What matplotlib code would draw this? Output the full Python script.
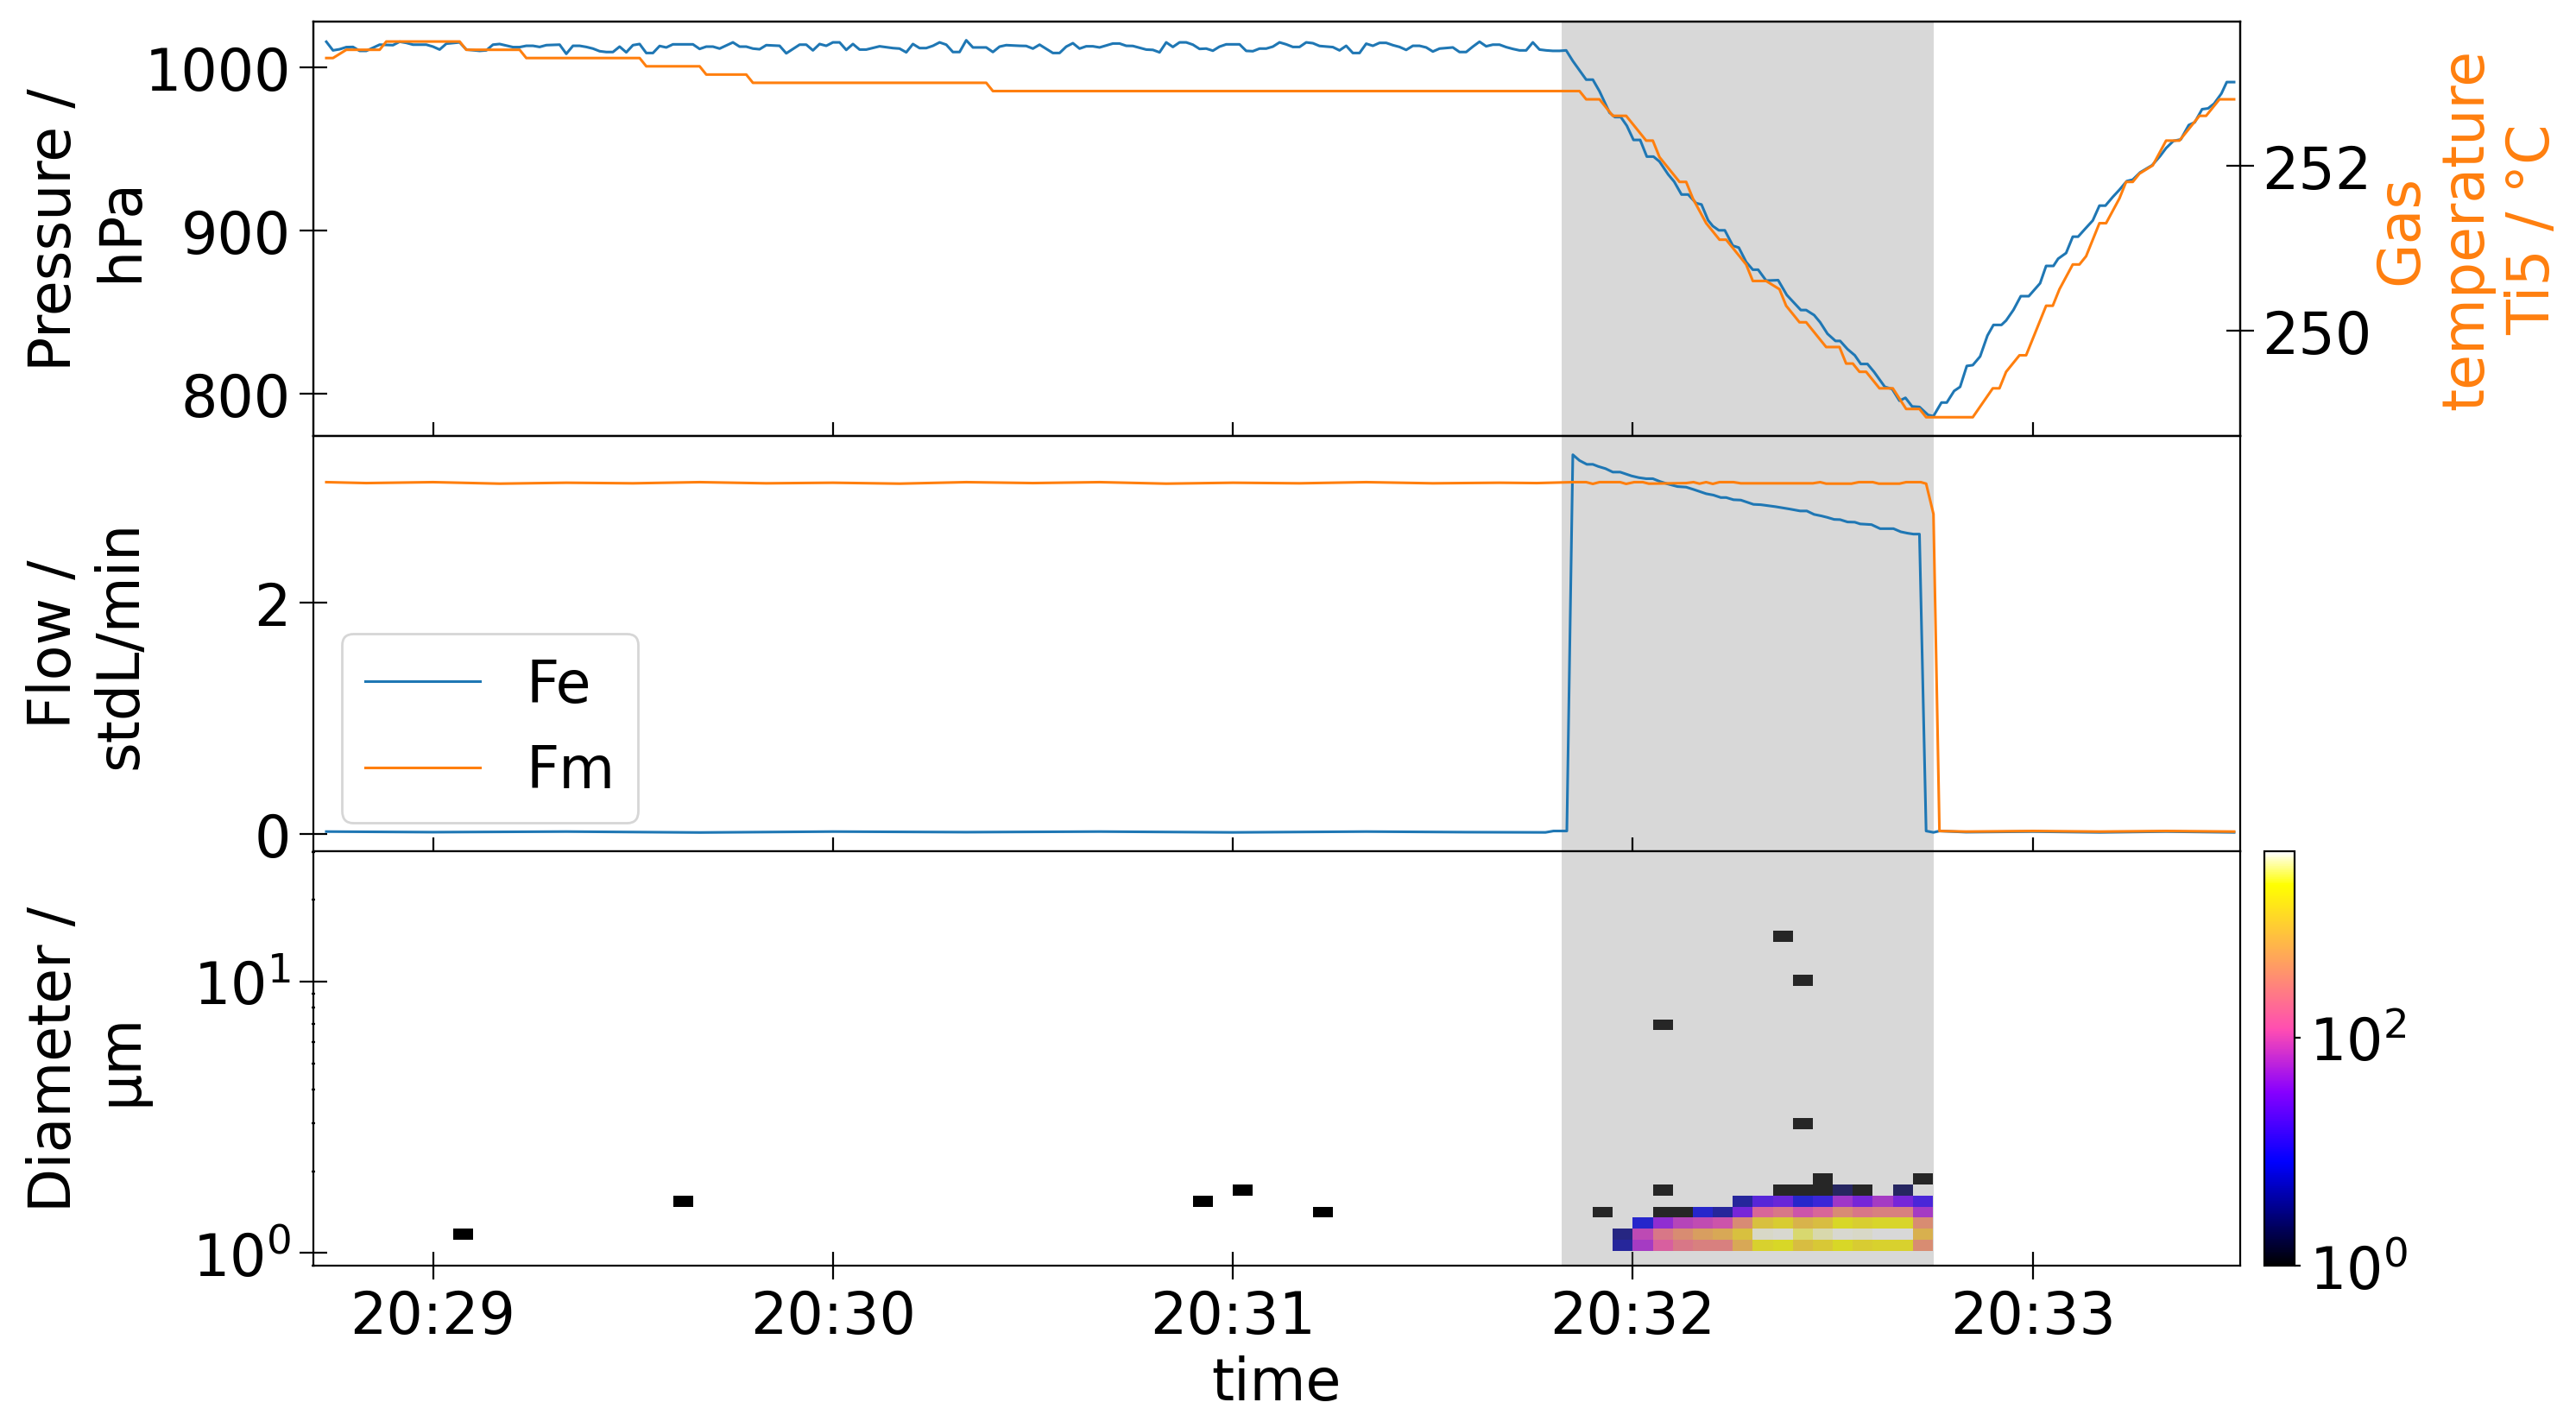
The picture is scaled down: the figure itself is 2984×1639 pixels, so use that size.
import numpy as np
import matplotlib
matplotlib.use('Agg')
import matplotlib.pyplot as plt
import matplotlib.dates as mdates
from matplotlib.colors import LogNorm
from datetime import datetime, timedelta

plt.rcParams['font.size'] = 24
plt.rcParams['lines.linewidth'] = 1.1

# all times are seconds after 20:28:00
START = datetime(2022, 1, 1, 20, 28, 0)

# pressure (hPa)
p_time = [44, 45, 46, 47, 48, 49, 50, 52, 54, 55, 56, 57, 59, 60, 61, 62, 64, 65, 67, 68,
          69, 70, 72, 73, 74, 75, 76, 77, 79, 80, 81, 82, 83, 84, 85, 86, 87, 88, 89, 90,
          91, 92, 93, 94, 95, 96, 99, 100, 101, 102, 103, 105, 106, 107, 108, 109, 110, 112, 113, 115,
          116, 117, 118, 119, 120, 121, 122, 123, 124, 125, 127, 129, 130, 131, 132, 133, 134, 135, 136, 137,
          138, 139, 140, 141, 143, 144, 145, 146, 148, 149, 150, 151, 153, 154, 155, 156, 157, 158, 159, 160,
          162, 163, 164, 165, 167, 168, 169, 170, 171, 172, 173, 174, 175, 176, 177, 178, 179, 181, 182, 183,
          184, 185, 186, 187, 188, 189, 190, 191, 192, 193, 195, 196, 197, 198, 199, 200, 201, 202, 203, 204,
          205, 206, 207, 208, 209, 210, 211, 213, 214, 215, 216, 217, 218, 219, 220, 221, 222, 223, 224, 225,
          226, 227, 228, 229, 230, 231, 233, 234, 235, 236.5, 237.3, 238.2, 239.1, 240.1, 241.1, 242.1, 243.1, 244.0,
          245.3, 246.2, 247.3, 248.3, 249.5, 250.3, 251.3, 252.0, 252.9, 253.8, 255.0, 255.9, 257.0, 258.0, 258.8,
          260.0, 261.8, 263.1, 265.2, 266.0, 267.2, 268.1, 269.2, 270.4, 271.1, 272.2, 273.3, 274.2, 275.2,
          276.2, 277.8, 278.9, 280.0, 280.9, 281.9, 283.0, 284.3, 285.1, 286.3, 287.1, 288.2, 289.1, 290.1,
          291.0, 292.1, 293.2, 294.1, 295.3, 296.0, 297.1, 298.2, 299.4, 301.1, 302.0, 303.1, 303.8, 305.0,
          306.0, 306.8, 307.9, 309.0, 310.0, 310.9, 312.0, 313.0, 314.1, 315.0, 316.1, 317.9, 319.1, 320.0,
          321.1, 322.2, 323.4, 324.3, 325.4, 326.3, 327.2, 328.3, 329.1, 330.2]
p_hpa = [1015.5, 1010.2, 1010.9, 1012.2, 1012.3, 1009.9, 1009.9, 1013.7, 1013.4, 1015.5, 1014.8, 1013.7, 1013.7, 1012.5, 1010.7, 1014.3, 1015.1, 1010.7, 1009.9, 1010.2,
         1013.7, 1014.1, 1012.2, 1012.2, 1013.0, 1013.0, 1012.3, 1013.4, 1013.7, 1008.1, 1013.0, 1013.0, 1012.3, 1011.3, 1009.7, 1009.2, 1009.2, 1012.5, 1009.0, 1013.4,
         1014.1, 1008.6, 1008.6, 1012.9, 1012.0, 1013.9, 1013.9, 1011.1, 1012.5, 1012.5, 1011.3, 1015.1, 1012.5, 1012.5, 1011.3, 1010.9, 1013.4, 1013.0, 1008.4, 1013.7,
         1013.7, 1010.2, 1014.1, 1013.0, 1015.1, 1015.1, 1010.5, 1014.1, 1010.7, 1010.7, 1012.7, 1011.6, 1011.3, 1009.0, 1014.1, 1011.6, 1011.6, 1013.0, 1015.1, 1013.7,
         1009.2, 1009.2, 1016.4, 1012.0, 1012.0, 1009.2, 1012.5, 1013.4, 1013.0, 1012.9, 1011.3, 1013.7, 1008.6, 1008.6, 1012.5, 1014.6, 1011.3, 1012.7, 1012.7, 1012.0,
         1014.4, 1014.4, 1013.0, 1012.9, 1010.7, 1010.5, 1009.0, 1015.1, 1012.3, 1015.1, 1015.1, 1013.7, 1011.1, 1011.3, 1010.0, 1012.5, 1013.9, 1013.9, 1009.9, 1009.7,
         1011.3, 1011.3, 1012.5, 1015.1, 1013.9, 1012.3, 1012.3, 1015.1, 1014.6, 1012.9, 1012.2, 1010.2, 1013.0, 1008.6, 1008.6, 1014.3, 1013.0, 1014.8, 1014.8, 1013.4,
         1012.3, 1010.5, 1013.0, 1013.0, 1012.0, 1009.5, 1011.3, 1012.0, 1009.2, 1009.2, 1012.5, 1015.5, 1012.7, 1013.7, 1013.7, 1012.2, 1011.1, 1010.2, 1010.2, 1015.1,
         1010.7, 1010.2, 1009.9, 1009.9, 1010.2, 1003.7, 992.3, 992.3, 985.2, 972.1, 969.4, 969.4, 964.1, 955.4, 955.4, 945.2, 945.2, 942.2,
         934.3, 929.9, 922.0, 922.0, 916.7, 915.9, 906.2, 902.7, 900.1, 900.1, 890.7, 889.5, 880.7, 876.0, 876.0,
         869.3, 869.6, 860.5, 851.3, 851.3, 848.2, 843.8, 836.8, 832.4, 832.4, 827.4, 823.6, 818.3, 818.3,
         813.4, 804.3, 803.0, 795.8, 797.6, 792.3, 792.0, 787.1, 786.4, 794.7, 794.7, 801.8, 804.3, 817.1,
         817.6, 822.9, 835.7, 842.2, 842.2, 844.9, 851.4, 859.8, 859.8, 867.7, 878.3, 878.3, 882.7, 886.2,
         896.2, 896.2, 901.2, 906.1, 915.2, 915.2, 920.5, 924.9, 930.2, 931.1, 935.5, 939.9, 945.5, 950.4,
         954.8, 955.7, 964.5, 966.2, 974.2, 974.7, 977.6, 983.8, 990.8, 990.8]

# gas temperature Ti5 (degC)
t_time = [44, 45, 47, 52, 53, 64, 65, 73, 74, 91, 92, 100, 101, 107, 108, 143, 144, 232, 233, 235,
          237, 239, 242, 243, 244, 247, 248, 249, 251, 253, 254, 257, 258, 260, 262, 263, 265, 266, 269, 271,
          272, 273, 274, 275, 277, 279, 281, 283, 284, 291, 294, 295, 296, 298, 299, 302, 303, 304, 306, 307,
          308, 310, 311, 313, 314, 315, 316, 318, 320, 322, 325, 326, 328, 330.2]
t_gas = [253.3, 253.3, 253.4, 253.4, 253.5, 253.5, 253.4, 253.4, 253.3, 253.3, 253.2, 253.2, 253.1, 253.1, 253.0, 253.0, 252.9, 252.9, 252.8, 252.8,
         252.6, 252.6, 252.3, 252.3, 252.1, 251.8, 251.8, 251.6, 251.3, 251.1, 251.1, 250.8, 250.6, 250.6, 250.5, 250.3, 250.1, 250.1, 249.8, 249.8,
         249.6, 249.6, 249.5, 249.5, 249.3, 249.3, 249.05, 249.05, 248.95, 248.95, 249.3, 249.3, 249.5, 249.7, 249.7, 250.3, 250.3, 250.5, 250.8, 250.8,
         250.9, 251.3, 251.3, 251.6, 251.8, 251.8, 251.9, 252.0, 252.3, 252.3, 252.6, 252.6, 252.8, 252.8]

# flows (stdL/min)
fe_time = [44, 60, 80, 100, 120, 140, 160, 180, 200, 215, 226.9, 228.1, 230.1, 231.0, 232.0, 233.1, 234.0, 234.8, 235.9, 237.0,
           238.1, 239.8, 240.9, 242.0, 243.0, 244.1, 245.2, 246.7, 248.0, 249.1, 251.0, 252.1, 253.2, 254.0, 255.1, 256.2, 258.1, 259.2,
           261.4, 263.5, 265.1, 266.1, 267.2, 268.3, 269.2, 270.2, 271.1, 272.2, 273.3, 274.1, 275.8, 277.1, 279.1, 280.2, 281.2, 282.1,
           283.0, 284.0, 285.1, 286.0, 290, 300, 310, 320, 330.2]
fe_flow = [0.02, 0.015, 0.02, 0.012, 0.02, 0.015, 0.02, 0.013, 0.02, 0.015, 0.013, 0.025, 0.025, 3.277, 3.227, 3.194, 3.194, 3.176, 3.157, 3.127,
           3.127, 3.094, 3.079, 3.070, 3.070, 3.045, 3.025, 3.002, 2.997, 2.977, 2.940, 2.928, 2.907, 2.907, 2.888, 2.885, 2.848, 2.845,
           2.828, 2.808, 2.791, 2.791, 2.761, 2.748, 2.735, 2.718, 2.716, 2.696, 2.694, 2.679, 2.673, 2.638, 2.638, 2.611, 2.599, 2.591,
           2.591, 0.025, 0.013, 0.025, 0.015, 0.02, 0.013, 0.02, 0.013]
fm_time = [44, 50, 60, 70, 80, 90, 100, 110, 120, 130, 140, 150, 160, 170, 180, 190, 200, 210, 220, 225.6,
           231.0, 233.0, 234.0, 235.0, 238.1, 239.0, 240.2, 241.5, 242.4, 248.0, 249.1, 250.0, 251.0, 252.0, 253.0, 255.1, 256.2,
           267.0, 268.1, 269.0, 272.8, 273.9, 276.0, 276.9, 280.0, 281.0, 283.2, 284.0, 285.1, 286.0, 290, 300, 310, 320, 330.2]
fm_flow = [3.04, 3.032, 3.04, 3.027, 3.035, 3.03, 3.04, 3.03, 3.035, 3.027, 3.04, 3.032, 3.04, 3.027, 3.035, 3.03, 3.04, 3.03, 3.035, 3.032,
           3.04, 3.04, 3.025, 3.04, 3.04, 3.025, 3.04, 3.04, 3.027, 3.032, 3.04, 3.027, 3.04, 3.025, 3.04, 3.04, 3.03,
           3.03, 3.04, 3.027, 3.027, 3.04, 3.04, 3.027, 3.027, 3.04, 3.04, 3.027, 2.765, 0.025, 0.02, 0.025, 0.02, 0.025, 0.02]

# particle size histogram: 3 s time bins, log diameter bins
BIN_S = 3
HIST_T0 = 42
N_TBINS = 97
LOG_D0 = 0.0086
LOG_DSTEP = 0.0406
N_DBINS = 30
cell_time = [63, 96, 174, 180, 192, 234,
             237, 240, 243, 246, 249, 252, 255, 258, 261, 264, 267, 270, 273, 276, 279, 282,
             237, 240, 243, 246, 249, 252, 255, 258, 261, 264, 267, 270, 273, 276, 279, 282,
             240, 243, 246, 249, 252, 255, 258, 261, 264, 267, 270, 273, 276, 279, 282,
             243, 246, 249, 252, 255, 258, 261, 264, 267, 270, 273, 276, 279, 282,
             255, 258, 261, 264, 267, 270, 273, 276, 279, 282,
             243, 261, 264, 267, 270, 273, 279,
             267, 282, 264, 243, 264, 261]
cell_row = [1, 4, 4, 5, 3, 3,
            0, 0, 0, 0, 0, 0, 0, 0, 0, 0, 0, 0, 0, 0, 0, 0,
            1, 1, 1, 1, 1, 1, 1, 1, 1, 1, 1, 1, 1, 1, 1, 1,
            2, 2, 2, 2, 2, 2, 2, 2, 2, 2, 2, 2, 2, 2, 2,
            3, 3, 3, 3, 3, 3, 3, 3, 3, 3, 3, 3, 3, 3,
            4, 4, 4, 4, 4, 4, 4, 4, 4, 4,
            5, 5, 5, 5, 5, 5, 5,
            6, 6, 11, 20, 24, 28]
cell_count = [1, 1, 1, 1, 1, 1,
              4, 54, 128, 223, 275, 275, 690, 1800, 2130, 1130, 1490, 2130, 1650, 1800, 1800, 370,
              3, 78, 223, 370, 550, 690, 1230, 3900, 4100, 2900, 3600, 4100, 3900, 4300, 4250, 850,
              7, 40, 70, 80, 100, 350, 1230, 1650, 920, 1130, 2130, 1700, 2000, 2000, 370,
              1, 1, 7, 4, 28, 150, 220, 100, 150, 350, 220, 275, 275, 54,
              4, 17, 22, 7, 11, 50, 28, 55, 28, 14,
              1, 1, 1, 1, 2, 1, 2,
              1, 1, 1, 1, 1, 1]

SHADE = (229.3, 285.1)


def to_time(seconds):
    return mdates.date2num([START + timedelta(seconds=float(s)) for s in seconds])


time_edges = HIST_T0 + BIN_S * np.arange(N_TBINS + 1)
diam_edges = 10 ** (LOG_D0 + LOG_DSTEP * np.arange(N_DBINS + 1))
counts = np.zeros((N_DBINS, N_TBINS))
for t, r, c in zip(cell_time, cell_row, cell_count):
    counts[r, (t - HIST_T0) // BIN_S] = c

fig = plt.figure(figsize=(14.92, 8.2), dpi=200)
left, width = 0.1215, 0.7481
bottom, h = 0.1052, 0.29305
ax_p = fig.add_axes([left, bottom + 2 * h, width, h])
ax_f = fig.add_axes([left, bottom + h, width, h], sharex=ax_p)
ax_d = fig.add_axes([left, bottom, width, h], sharex=ax_p)
ax_t = ax_p.twinx()
cax = fig.add_axes([0.879, bottom, 0.0117, h])

shade = to_time(SHADE)

# pressure + gas temperature
ax_p.axvspan(shade[0], shade[1], color='gray', alpha=0.3, lw=0)
ax_p.plot(to_time(p_time), p_hpa, color='tab:blue')
ax_t.plot(to_time(t_time), t_gas, color='tab:orange')
ax_p.set_ylim(774.1, 1028.0)
ax_p.set_yticks([800, 900, 1000])
ax_t.set_ylim(248.72, 253.745)
ax_t.set_yticks([250, 252])
ax_p.set_ylabel('Pressure /\nhPa')
ax_t.set_ylabel('Gas\ntemperature\nTi5 / °C', color='tab:orange', labelpad=0)

# flows
ax_f.axvspan(shade[0], shade[1], color='gray', alpha=0.3, lw=0)
ax_f.plot(to_time(fe_time), fe_flow, color='tab:blue', label='Fe')
ax_f.plot(to_time(fm_time), fm_flow, color='tab:orange', label='Fm')
ax_f.set_ylim(-0.149, 3.437)
ax_f.set_yticks([0, 2])
ax_f.set_ylabel('Flow /\nstdL/min')
ax_f.legend(loc='lower left')

# size distribution
mesh = ax_d.pcolormesh(to_time(time_edges), diam_edges, np.ma.masked_equal(counts, 0),
                       cmap='gnuplot2', norm=LogNorm(vmin=1, vmax=counts.max()), zorder=1)
ax_d.axvspan(shade[0], shade[1], color='gray', alpha=0.3, lw=0, zorder=2)
ax_d.set_yscale('log')
ax_d.set_ylim(0.896, 30.2)
ax_d.set_ylabel('Diameter /\nµm')
ax_d.set_xlabel('time')

ax_d.set_xlim(to_time([42.0, 331.1]))
ax_d.xaxis.set_major_locator(mdates.MinuteLocator())
ax_d.xaxis.set_major_formatter(mdates.DateFormatter('%H:%M'))

for ax in (ax_p, ax_f, ax_d, ax_t):
    ax.tick_params(which='major', direction='inout', length=11.5, width=0.8)
ax_d.tick_params(which='minor', direction='inout', length=1.5, width=0.8)
ax_p.tick_params(labelbottom=False)
ax_f.tick_params(labelbottom=False)

for ax in (ax_p, ax_f, ax_d):
    ax.yaxis.set_label_coords(-0.085, 0.5)

cb = fig.colorbar(mesh, cax=cax)
cb.set_ticks([1, 100])
cb.ax.minorticks_off()
cb.ax.tick_params(length=2.5, width=0.8)

fig.savefig('out.png', dpi=200)
